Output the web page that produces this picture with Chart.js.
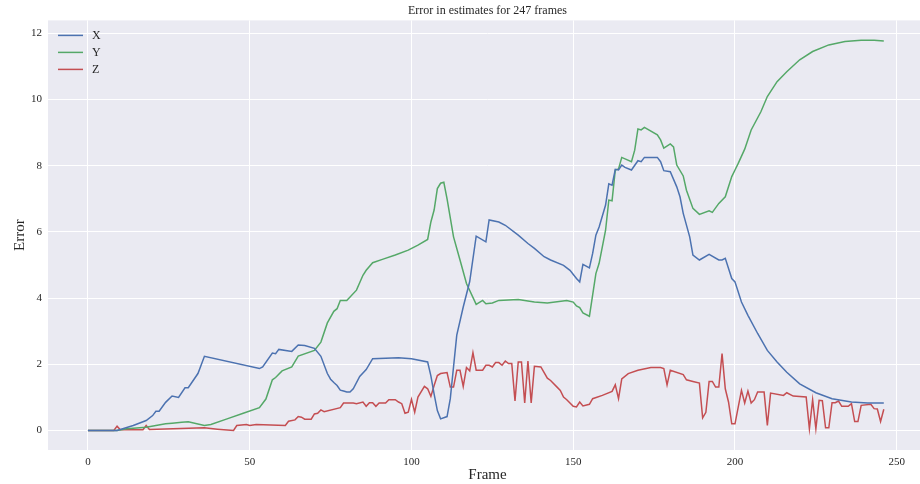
<!DOCTYPE html>
<html>
<head>
<meta charset="utf-8">
<title>Error in estimates for 247 frames</title>
<script src="https://cdn.jsdelivr.net/npm/chart.js@4.4.0/dist/chart.umd.min.js"></script>
<style>
  html, body { margin: 0; padding: 0; background: #ffffff; overflow: hidden; width: 920px; height: 484px; }
  canvas { display: block; }
</style>
</head>
<body>
<canvas id="chart" width="930" height="484" style="width:930px;height:484px"></canvas>
<script>
// Per-axis estimation error, as [frame, error] vertices
const seriesNames = ['X', 'Y', 'Z'];
const seriesColors = ['#4C72B0', '#55A868', '#C44E52'];

const errX = [
  [0,0],[9,0],[14,0.15],[18,0.3],[20,0.45],[21,0.58],[22,0.58],[24,0.85],[26,1.04],[28,1.0],
  [30,1.29],[31,1.29],[34,1.72],[36,2.24],[53,1.87],[54,1.92],[57,2.34],[58,2.32],[59,2.45],[63,2.39],
  [65,2.58],[67,2.57],[70,2.48],[72,2.24],[74,1.72],[75,1.55],[76,1.45],[77,1.36],[78,1.22],[79,1.19],
  [80,1.16],[81,1.16],[82,1.26],[84,1.63],[86,1.84],[88,2.17],[96,2.2],[100,2.17],[105,2.07],[106,1.65],
  [107,1.1],[108,0.6],[109,0.35],[111,0.42],[112,0.96],[114,2.88],[116,3.73],[118,4.5],[120,5.87],[123,5.7],
  [124,6.36],[127,6.3],[129,6.2],[133,5.9],[136,5.65],[138,5.5],[141,5.25],[143,5.15],[147,4.99],[149,4.84],
  [151,4.59],[152,4.49],[153,5.02],[155,4.91],[156,5.35],[157,5.9],[158,6.15],[160,6.81],[161,7.45],[162,7.41],
  [163,7.89],[164,7.87],[165,8.02],[166,7.95],[168,7.87],[170,8.15],[171,8.12],[172,8.25],[176,8.25],[177,8.12],
  [178,7.85],[180,7.82],[182,7.36],[183,7.06],[184,6.56],[186,5.85],[187,5.3],[189,5.15],[192,5.32],[195,5.15],
  [196,5.15],[197,5.2],[199,4.59],[200,4.49],[202,3.88],[204,3.48],[207,2.93],[210,2.42],[213,2.07],[216,1.76],
  [220,1.41],[225,1.14],[230,0.96],[236,0.86],[241,0.83],[246,0.83]
];

const errY = [
  [0,0],[9,0],[12,0.05],[18,0.1],[24,0.2],[26,0.22],[29,0.25],[31,0.26],[36,0.15],[38,0.18],
  [43,0.35],[48,0.52],[53,0.69],[55,0.95],[57,1.53],[58,1.6],[60,1.8],[63,1.92],[65,2.25],[70,2.42],
  [72,2.67],[74,3.25],[76,3.6],[77,3.68],[78,3.93],[80,3.93],[83,4.24],[85,4.69],[86,4.84],[88,5.07],
  [91,5.17],[95,5.3],[99,5.45],[102,5.6],[105,5.77],[106,6.3],[107,6.66],[108,7.31],[109,7.47],[110,7.5],
  [111,7.0],[113,5.85],[115,5.15],[117,4.44],[120,3.81],[122,3.93],[123,3.83],[125,3.85],[127,3.93],[133,3.96],
  [138,3.88],[142,3.85],[148,3.93],[150,3.88],[151,3.76],[152,3.71],[153,3.55],[155,3.45],[157,4.74],[158,5.05],
  [160,6.05],[161,6.96],[162,6.94],[163,7.87],[164,7.9],[165,8.25],[168,8.12],[169,8.47],[170,9.11],[171,9.08],
  [172,9.16],[176,8.93],[177,8.78],[178,8.53],[180,8.66],[181,8.57],[182,8.02],[184,7.69],[185,7.26],[187,6.71],
  [189,6.53],[192,6.64],[193,6.59],[195,6.86],[197,7.06],[199,7.67],[200,7.87],[201,8.07],[203,8.5],[205,9.08],
  [208,9.63],[210,10.09],[213,10.54],[216,10.84],[220,11.2],[224,11.45],[229,11.65],[234,11.75],[239,11.79],[243,11.79],
  [246,11.77]
];

const errZ = [
  [0,0],[8,0],[9,0.13],[10,0.02],[17,0.02],[18,0.15],[19,0.03],[36,0.08],[40,0.04],[45,0.0],
  [46,0.15],[49,0.18],[50,0.15],[52,0.18],[61,0.15],[62,0.28],[64,0.32],[65,0.42],[66,0.4],[67,0.34],
  [69,0.34],[70,0.5],[71,0.52],[72,0.62],[73,0.57],[78,0.69],[79,0.83],[82,0.83],[83,0.81],[85,0.86],
  [86,0.73],[87,0.84],[88,0.84],[89,0.73],[90,0.83],[92,0.83],[93,0.93],[95,0.93],[96,0.86],[97,0.81],
  [98,0.52],[99,0.55],[100,0.94],[101,0.55],[102,1.01],[104,1.33],[105,1.26],[106,1.03],[107,1.36],[108,1.66],
  [109,1.72],[111,1.75],[112,1.31],[113,1.31],[114,1.82],[115,1.82],[116,1.33],[117,1.9],[118,1.8],[119,2.35],
  [120,1.82],[122,1.82],[123,1.97],[124,1.97],[125,1.92],[126,2.05],[127,2.05],[128,1.97],[129,2.1],[130,2.02],
  [131,2.02],[132,0.89],[133,2.07],[134,2.07],[135,0.83],[136,2.1],[137,0.83],[138,1.94],[140,1.92],[142,1.58],
  [143,1.51],[145,1.31],[146,1.21],[147,1.01],[148,0.93],[150,0.73],[151,0.71],[152,0.86],[153,0.74],[155,0.79],
  [156,0.96],[159,1.06],[162,1.18],[163,1.38],[164,0.96],[165,1.56],[167,1.72],[170,1.82],[174,1.9],[177,1.9],
  [178,1.87],[179,1.38],[180,1.82],[184,1.69],[185,1.53],[187,1.48],[189,1.43],[190,0.38],[191,0.55],[192,1.48],
  [193,1.48],[194,1.31],[195,1.31],[196,2.32],[197,1.26],[198,0.86],[199,0.2],[200,0.2],[202,1.21],[203,0.83],
  [204,1.19],[205,0.83],[206,0.93],[207,1.16],[209,1.16],[210,0.15],[211,1.13],[215,1.06],[216,1.14],[218,1.04],
  [222,1.01],[223,0.05],[224,0.93],[225,0.05],[226,0.91],[227,0.9],[228,0.08],[229,0.08],[230,0.84],[231,0.84],
  [232,0.89],[233,0.73],[235,0.73],[236,0.81],[237,0.27],[238,0.27],[239,0.76],[242,0.79],[243,0.66],[244,0.65],
  [245,0.27],[246,0.64]
];

const titleText = 'Error in estimates for 247 frames';
const xLabel = 'Frame';
const yLabel = 'Error';

const FONT = "'Liberation Serif', 'Times New Roman', serif";
const TEXT = '#262626';

// Shaded plotting area behind the grid
const plotBackground = {
  id: 'plotBackground',
  beforeDraw(chart) {
    const { ctx, chartArea: a } = chart;
    ctx.save();
    ctx.fillStyle = '#EAEAF2';
    ctx.fillRect(a.left, a.top, a.right - a.left, a.bottom - a.top);
    ctx.restore();
  }
};

// Legend placed in the upper-left corner of the plotting area
const innerLegend = {
  id: 'innerLegend',
  afterDatasetsDraw(chart) {
    const { ctx, chartArea: a } = chart;
    ctx.save();
    ctx.font = '12px ' + FONT;
    ctx.fillStyle = TEXT;
    ctx.textAlign = 'left';
    ctx.textBaseline = 'middle';
    chart.data.datasets.forEach((ds, i) => {
      const y = a.top + 15 + i * 17;
      ctx.strokeStyle = ds.borderColor;
      ctx.lineWidth = 1.5;
      ctx.beginPath();
      ctx.moveTo(a.left + 10, y);
      ctx.lineTo(a.left + 35, y);
      ctx.stroke();
      ctx.fillText(ds.label, a.left + 44, y);
    });
    ctx.restore();
  }
};

const toPoints = rows => rows.map(([f, e]) => ({ x: f, y: e }));

const datasets = [errX, errY, errZ].map((rows, i) => ({
  label: seriesNames[i],
  data: toPoints(rows),
  borderColor: seriesColors[i],
  backgroundColor: seriesColors[i],
  borderWidth: 1.5,
  pointRadius: 0,
  tension: 0,
  fill: false
}));

new Chart(document.getElementById('chart'), {
  type: 'line',
  data: { datasets },
  plugins: [plotBackground, innerLegend],
  options: {
    responsive: false,
    devicePixelRatio: 1,
    animation: false,
    layout: { padding: { left: 0, right: 3, top: 0, bottom: 0 } },
    plugins: {
      legend: { display: false },
      tooltip: { enabled: false },
      title: {
        display: true,
        text: titleText,
        fullSize: false,
        color: TEXT,
        font: { family: FONT, size: 12, weight: 'normal' },
        padding: { top: 4, bottom: 2 }
      }
    },
    scales: {
      x: {
        type: 'linear',
        min: -12.35,
        max: 259.35,
        grid: { color: '#ffffff', lineWidth: 1, drawTicks: false },
        border: { display: false },
        ticks: {
          stepSize: 50,
          includeBounds: false,
          padding: 6,
          maxRotation: 0,
          color: TEXT,
          font: { family: FONT, size: 11 }
        },
        title: {
          display: true,
          text: xLabel,
          color: TEXT,
          font: { family: FONT, size: 15 },
          padding: { top: 0, bottom: 0 }
        },
        afterFit(scale) { scale.height = 34; }
      },
      y: {
        type: 'linear',
        min: -0.59,
        max: 12.39,
        grid: { color: '#ffffff', lineWidth: 1, drawTicks: false },
        border: { display: false },
        ticks: {
          stepSize: 2,
          includeBounds: false,
          padding: 6,
          color: TEXT,
          font: { family: FONT, size: 11 }
        },
        title: {
          display: true,
          text: yLabel,
          color: TEXT,
          font: { family: FONT, size: 15 },
          padding: { top: 11, bottom: 0 }
        },
        afterFit(scale) { scale.width = 48; }
      }
    }
  }
});
</script>
</body>
</html>
